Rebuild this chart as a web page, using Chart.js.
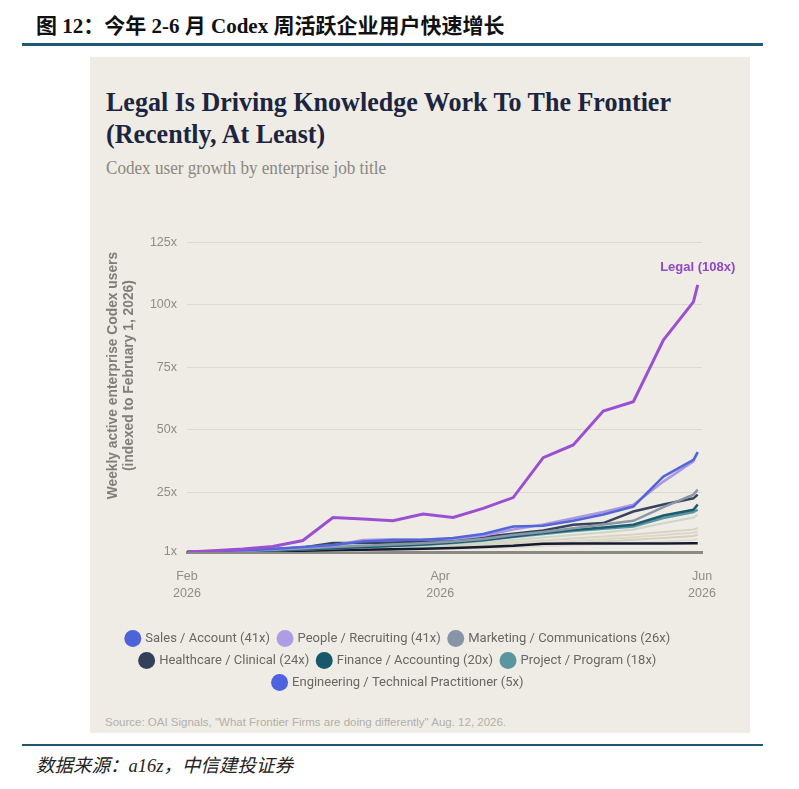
<!DOCTYPE html>
<html>
<head>
<meta charset="utf-8">
<script src="https://cdn.jsdelivr.net/npm/chart.js@4.4.1/dist/chart.umd.min.js"></script>
<style>
  body { margin: 0; background: #fff; width: 799px; height: 789px; position: relative; overflow: hidden; }
  #hdr { position: absolute; left: 36px; top: 13px; font: bold 21px "Liberation Serif", "Noto Sans CJK SC"; color: #111; white-space: nowrap; line-height: 26px; }
  .rule { position: absolute; left: 22px; width: 741px; background: #1d5877; }
  #panel { position: absolute; left: 90px; top: 57px; width: 660px; height: 676px; background: #efece5; }
  #title { position: absolute; left: 106px; top: 86px; font: bold 28px "Liberation Serif", serif; color: #1b2541; line-height: 32px; transform: scaleX(0.93); transform-origin: left top; white-space: nowrap; }
  #sub { position: absolute; left: 106px; top: 157px; font: 19px "Liberation Serif", serif; color: #8a8880; line-height: 22px; transform: scaleX(0.9); transform-origin: left top; white-space: nowrap; }
  #src { position: absolute; left: 105px; top: 716px; font: 11.5px "Liberation Sans", sans-serif; color: #b3b0a6; white-space: nowrap; }
  #foot { position: absolute; left: 36px; top: 755px; font: italic 18.5px "Liberation Serif", "Noto Sans CJK SC"; color: #222; white-space: nowrap; line-height: 22px; }
  #wrap { position: absolute; left: 95px; top: 225px; width: 650px; height: 480px; }
</style>
</head>
<body>
<div id="hdr">图 12：今年 2-6 月 Codex 周活跃企业用户快速增长</div>
<div class="rule" style="top:43px;height:3px"></div>
<div id="panel"></div>
<div id="title">Legal Is Driving Knowledge Work To The Frontier<br>(Recently, At Least)</div>
<div id="sub">Codex user growth by enterprise job title</div>
<div id="wrap"><canvas id="growthChart"></canvas></div>
<div id="src">Source: OAI Signals, "What Frontier Firms are doing differently" Aug. 12, 2026.</div>
<div class="rule" style="top:744px;height:2px"></div>
<div id="foot">数据来源：a16z，中信建投证券</div>

<script>
// days since Feb 1, 2026 (weekly readings)
const days = [0, 6, 13, 20, 27, 34, 41, 48, 55, 62, 69, 76, 83, 90, 97, 104, 111, 118, 119];

const legal       = [1, 1.5, 2.2, 3.2, 5.6, 14.8, 14.2, 13.5, 16.2, 14.8, 18.5, 22.8, 38.8, 43.9, 57.5, 61.2, 85.9, 101.2, 108];
const sales       = [1, 1.3, 1.7, 2.2, 3.0, 3.8, 5.2, 5.8, 5.9, 6.6, 8.2, 11.2, 11.5, 13.5, 16.0, 19.2, 31.2, 37.9, 41];
const people      = [1, 1.3, 1.6, 2.0, 2.8, 3.6, 5.8, 6.1, 6.0, 6.2, 7.5, 10.0, 12.0, 14.5, 17.0, 19.9, 29.2, 37.3, 41];
const marketing   = [1, 1.2, 1.5, 1.9, 2.4, 3.0, 3.5, 4.0, 4.5, 5.2, 6.2, 7.8, 9.0, 10.5, 12.0, 13.5, 19.0, 24.0, 26];
const healthcare  = [1, 1.3, 1.7, 2.2, 2.8, 4.6, 4.6, 4.8, 5.0, 5.8, 7.0, 8.3, 9.6, 11.9, 12.6, 17.2, 20.0, 22.5, 24];
const finance     = [1, 1.2, 1.4, 1.7, 2.1, 2.5, 3.0, 3.5, 4.0, 4.8, 5.8, 7.2, 8.6, 9.8, 10.8, 11.9, 15.6, 17.9, 20];
const project     = [1, 1.2, 1.4, 1.6, 2.0, 2.4, 2.9, 3.4, 3.9, 4.6, 5.6, 7.0, 8.2, 9.4, 10.3, 11.2, 14.6, 17.0, 18];
const engineering = [1, 1.1, 1.2, 1.3, 1.5, 1.7, 1.9, 2.1, 2.3, 2.6, 3.0, 3.5, 4.3, 4.4, 4.4, 4.4, 4.4, 4.5, 4.5];

// other job titles (unlabelled, drawn in the background)
const other1 = [1, 1.1, 1.3, 1.5, 1.8, 2.1, 2.5, 2.9, 3.3, 3.9, 4.7, 5.8, 6.8, 7.8, 8.8, 10.0, 12.5, 14.8, 15.9];
const other2 = [1, 1.1, 1.2, 1.4, 1.6, 1.9, 2.2, 2.6, 3.0, 3.5, 4.1, 4.9, 5.6, 6.4, 7.2, 8.0, 9.0, 10.0, 10.6];
const other3 = [1, 1.1, 1.2, 1.3, 1.5, 1.7, 2.0, 2.3, 2.6, 3.0, 3.5, 4.1, 4.7, 5.4, 6.1, 6.9, 7.8, 8.7, 9.2];
const other4 = [1, 1.05, 1.15, 1.25, 1.4, 1.6, 1.8, 2.0, 2.3, 2.6, 3.0, 3.5, 4.0, 4.6, 5.2, 5.9, 6.6, 7.4, 7.9];
const other5 = [1, 1.05, 1.1, 1.2, 1.3, 1.45, 1.6, 1.8, 2.0, 2.2, 2.5, 2.9, 3.3, 3.7, 4.2, 4.7, 5.2, 5.8, 6.2];

const yTicks = [1, 25, 50, 75, 100, 125];
const xTicks = [0, 59, 120];
const xTickLabels = [["Feb", "2026"], ["Apr", "2026"], ["Jun", "2026"]];
const yTitleLines = ["Weekly active enterprise Codex users", "(indexed to February 1, 2026)"];

function pts(vals) {
  return vals.map((v, i) => ({ x: days[i], y: v }));
}

function series(label, vals, color, dot, width) {
  return {
    label: label,
    data: pts(vals),
    borderColor: color,
    backgroundColor: dot,
    borderWidth: width,
    pointRadius: 0,
    tension: 0,
  };
}

const datasets = [
  series("Legal (108x)", legal, "#9b50d4", "#9b50d4", 3),
  series("Sales / Account (41x)", sales, "#5266db", "#4d63d9", 2.5),
  series("People / Recruiting (41x)", people, "#ab98e2", "#b09ce3", 2.5),
  series("Marketing / Communications (26x)", marketing, "#8a97a7", "#8594a6", 2.5),
  series("Healthcare / Clinical (24x)", healthcare, "#38435d", "#34405a", 2.5),
  series("Finance / Accounting (20x)", finance, "#1a5b6c", "#17596b", 2.5),
  series("Project / Program (18x)", project, "#5a97a3", "#5a95a0", 2.5),
  series("Engineering / Technical Practitioner (5x)", engineering, "#141a32", "#4f62e0", 2.5),
  series("", other1, "#cdd6ca", "#cdd6ca", 2),
  series("", other2, "#d9d4c2", "#d9d4c2", 2),
  series("", other3, "#dcd8c9", "#dcd8c9", 2),
  series("", other4, "#d5d1c0", "#d5d1c0", 2),
  series("", other5, "#e0dccf", "#e0dccf", 2),
];

// "Legal (108x)" tag above the last Legal point
const legalLabel = {
  id: "legalLabel",
  afterDatasetsDraw(chart) {
    const meta = chart.getDatasetMeta(0);
    const last = meta.data[meta.data.length - 1];
    const c = chart.ctx;
    c.save();
    c.font = "bold 13px 'Liberation Sans', sans-serif";
    c.fillStyle = "#9047c9";
    c.textAlign = "center";
    c.textBaseline = "middle";
    c.fillText("Legal (108x)", last.x, last.y - 18);
    c.restore();
  },
};

// y axis title, sitting a little above the middle like the original
const yTitle = {
  id: "yTitle",
  afterDraw(chart) {
    const a = chart.chartArea;
    const c = chart.ctx;
    const cy = a.top + (a.bottom - a.top) * 0.43;
    c.save();
    c.font = "bold 13.8px 'Liberation Sans', sans-serif";
    c.fillStyle = "#7f7e78";
    c.textAlign = "center";
    c.textBaseline = "middle";
    yTitleLines.forEach((t, i) => {
      c.save();
      c.translate(a.left - 74 + i * 16, cy);
      c.rotate(-Math.PI / 2);
      c.fillText(t, 0, 0);
      c.restore();
    });
    c.restore();
  },
};

new Chart(document.getElementById("growthChart"), {
  type: "line",
  data: { datasets: datasets },
  plugins: [legalLabel, yTitle],
  options: {
    responsive: true,
    maintainAspectRatio: false,
    animation: false,
    layout: { padding: { top: 17, right: 43, bottom: 6, left: 0 } },
    plugins: {
      tooltip: { enabled: false },
      legend: {
        position: "bottom",
        labels: {
          usePointStyle: true,
          pointStyle: "circle",
          boxWidth: 12,
          boxHeight: 12,
          padding: 9,
          color: "#686762",
          font: { family: "'Liberation Sans Narrow', Roboto, sans-serif", size: 13 },
          filter: (item) => item.text !== "" && item.datasetIndex !== 0,
          generateLabels(chart) {
            const items = Chart.defaults.plugins.legend.labels.generateLabels(chart);
            items.forEach((it) => {
              it.strokeStyle = it.fillStyle;
              it.lineWidth = 0;
            });
            return items;
          },
        },
      },
    },
    scales: {
      x: {
        type: "linear",
        min: 0,
        max: 120,
        afterBuildTicks: (s) => { s.ticks = xTicks.map((v) => ({ value: v })); },
        afterFit: (s) => { s.height = 71; },
        grid: { display: false, drawTicks: false },
        border: { display: true, color: "#8b8a83", width: 3 },
        ticks: {
          padding: 16,
          color: "#8f8d86",
          font: { family: "'Liberation Sans', sans-serif", size: 12.5, lineHeight: 1.35 },
          callback: (v) => xTickLabels[xTicks.indexOf(v)],
        },
      },
      y: {
        type: "linear",
        min: 1,
        max: 125,
        afterBuildTicks: (s) => { s.ticks = yTicks.map((v) => ({ value: v })); },
        afterFit: (s) => { s.width = 92; },
        grid: { color: "#dcd9cf", lineWidth: 1, drawTicks: false },
        border: { display: false },
        ticks: {
          padding: 10,
          color: "#8f8d86",
          font: { family: "'Liberation Sans', sans-serif", size: 12.5 },
          callback: (v) => v + "x",
        },
      },
    },
  },
});
</script>
</body>
</html>
